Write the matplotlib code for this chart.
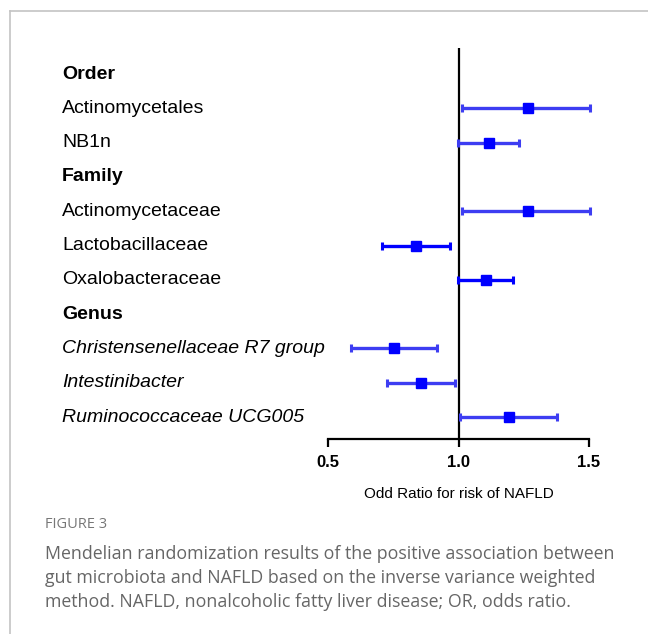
import matplotlib
matplotlib.use("Agg")
import matplotlib.pyplot as plt
from matplotlib.lines import Line2D
import matplotlib.transforms as mtransforms

# rows from top to bottom: (label, kind) ; kind = header / plain / italic
labels = ["Order", "Actinomycetales", "NB1n",
          "Family", "Actinomycetaceae", "Lactobacillaceae", "Oxalobacteraceae",
          "Genus", "Christensenellaceae R7 group", "Intestinibacter",
          "Ruminococcaceae UCG005"]
kinds = ["header", "plain", "plain",
         "header", "plain", "plain", "plain",
         "header", "italic", "italic", "italic"]

# odds ratio with 95% CI (None for header rows)
or_val = [None, 1.268, 1.115, None, 1.268, 0.837, 1.105, None, 0.751, 0.858, 1.193]
ci_low = [None, 1.013, 0.997, None, 1.013, 0.706, 0.997, None, 0.587, 0.727, 1.005]
ci_high = [None, 1.505, 1.232, None, 1.505, 0.968, 1.210, None, 0.917, 0.988, 1.377]
solid = [None, False, False, None, False, True, True, None, False, False, False]

LIGHT = "#3d3df2"
BLUE = "#0000ff"
W, H = 648, 634

plt.rcParams["font.family"] = ["Liberation Sans", "DejaVu Sans"]
fig = plt.figure(figsize=(W / 100, H / 100), dpi=100)

ax_bottom, ax_top = 439, 48
ax = fig.add_axes([328 / W, 1 - ax_bottom / H, (589 - 328) / W, (ax_bottom - ax_top) / H])
ax.set_xlim(0.5, 1.5)
ax.set_ylim((ax_bottom - 74) / 34.3, (ax_top - 74) / 34.3)

for i, (o, lo, hi, s) in enumerate(zip(or_val, ci_low, ci_high, solid)):
    if o is None:
        continue
    c = BLUE if s else LIGHT
    ax.errorbar(o, i, xerr=[[o - lo], [hi - o]], fmt="s", color=c, mfc=BLUE, mec=BLUE,
                ms=6.5, elinewidth=2.4, capsize=3, capthick=2.2, clip_on=False, zorder=3)

ax.axvline(1.0, color="black", lw=1.6, zorder=2)

for sp in ("top", "right", "left"):
    ax.spines[sp].set_visible(False)
ax.spines["bottom"].set_linewidth(1.6)
ax.set_yticks([])
ax.set_xticks([0.5, 1.0, 1.5])
ax.set_xticklabels(["0.5", "1.0", "1.5"], fontweight="bold", fontsize=12)
ax.tick_params(axis="x", length=5.5, width=1.6, pad=6)
ax.set_xlabel("Odd Ratio for risk of NAFLD", fontsize=11, labelpad=12)

trans = mtransforms.blended_transform_factory(fig.transFigure, ax.transData)
for i, (lab, k) in enumerate(zip(labels, kinds)):
    ax.text(62 / W, i, lab, transform=trans, ha="left", va="center", fontsize=14,
            fontweight="bold" if k == "header" else "normal",
            fontstyle="italic" if k == "italic" else "normal", clip_on=False)

# page frame
frame = "#c4c4c4"
fig.add_artist(Line2D([10 / W, 10 / W], [0, 1 - 11 / H], color=frame, lw=1.2,
                      transform=fig.transFigure))
fig.add_artist(Line2D([10 / W, 1], [1 - 11 / H, 1 - 11 / H], color=frame, lw=1.2,
                      transform=fig.transFigure))

# caption
cap_font = ["Open Sans", "DejaVu Sans"]
fig.text(45 / W, 1 - 524 / H, "FIGURE 3", fontsize=10.5, color="#777777",
         family=cap_font, va="center", ha="left")
caption = ["Mendelian randomization results of the positive association between",
           "gut microbiota and NAFLD based on the inverse variance weighted",
           "method. NAFLD, nonalcoholic fatty liver disease; OR, odds ratio."]
for j, line in enumerate(caption):
    fig.text(45 / W, 1 - (554 + 24 * j) / H, line, fontsize=12.8, color="#666666",
             family=cap_font, va="center", ha="left")

fig.savefig("out.png", dpi=100)
